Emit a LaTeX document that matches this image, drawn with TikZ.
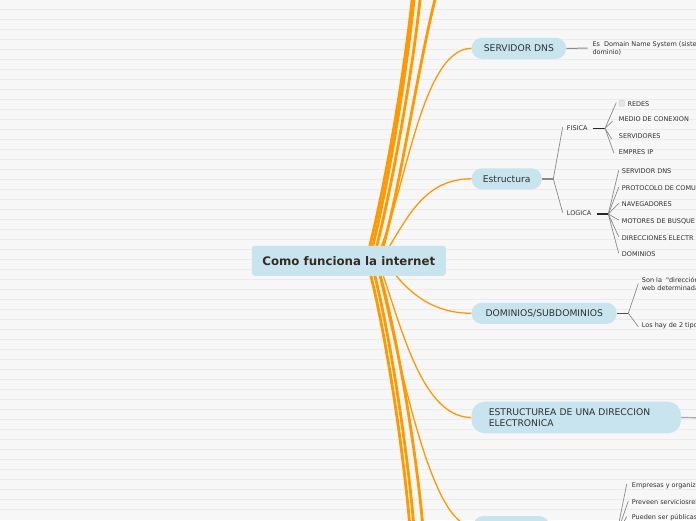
\documentclass[tikz,border=0pt]{standalone}
\usepackage{fontspec}
\newfontfamily\dv{DejaVu Sans}
\usetikzlibrary{calc}
\definecolor{bgc}{HTML}{F7F7F7}
\definecolor{gridc}{HTML}{EBEBEB}
\definecolor{nodeblue}{HTML}{C8E5EF}
\definecolor{orangeb}{HTML}{FF9900}
\definecolor{roottext}{HTML}{3A2B22}
\definecolor{txt}{HTML}{303030}
\definecolor{lineg}{HTML}{8A8A8A}
\pgfdeclarelayer{bglayer}
\pgfdeclarelayer{branches}
\pgfsetlayers{bglayer,branches,main}
\begin{document}
\begin{tikzpicture}[x=1pt,y=-1pt,
  rootnode/.style={fill=nodeblue, rounded corners=3pt, minimum width=194pt, minimum height=30pt, inner sep=0pt, text=roottext, font=\dv\bfseries\fontsize{11.8}{14}\selectfont},
  topic/.style={fill=nodeblue, rounded corners=10pt, minimum height=21pt, inner sep=0pt, text=txt, font=\dv\fontsize{9.2}{11}\selectfont},
  leaf/.style={anchor=west, inner sep=0pt, text height=4.7pt, text depth=0pt, text=txt, font=\dv\fontsize{6.5}{8}\selectfont},
  leaftwo/.style={anchor=north west, inner sep=0pt, align=left, text=txt, font=\dv\fontsize{6.5}{8}\selectfont},
  thickbr/.style={draw=orangeb, line width=2.8pt},
  thinbr/.style={draw=orangeb, line width=1.3pt},
  conn/.style={draw=lineg, line width=0.7pt},
  stubline/.style={draw=black!85, line width=1.1pt},
]
\useasboundingbox (0,0) rectangle (696,520);
\begin{pgfonlayer}{bglayer}
\fill[bgc] (0,0) rectangle (696,520);
\foreach \k in {1,...,51} \draw[gridc, line width=0.9pt] (0,\k*10-0.5) -- (696,\k*10-0.5);
\end{pgfonlayer}

\begin{scope}
\clip (0,0) rectangle (696,520);
% main nodes
\node[rootnode] (root) at (348.8,260.8) {Como funciona la internet};
\node[topic, minimum width=94.3pt] (dns) at (518.9,48.3) {SERVIDOR DNS};
\node[topic, minimum width=70pt] (est) at (506.7,178.8) {Estructura};
\node[topic, minimum width=145pt] (dom) at (544.2,313.3) {DOMINIOS/SUBDOMINIOS};
\node[topic, minimum width=209.3pt, minimum height=31.6pt, rounded corners=13pt, align=left, text width=175pt] (dir) at (576.3,417.5) {ESTRUCTUREA DE UNA DIRECCION\\ELECTRONICA};
\node[topic, minimum width=76pt] (bot) at (511.3,526.5) {};

% leaves
\node[leaftwo] (dnsdesc) at (592.3,41.1) {Es~ Domain Name System (siste\\dominio)};
\node[leaf] (fis) at (566.7,128.3) {FISICA};
\node[leaf] (log) at (566.7,213.5) {LOGICA};
\node[anchor=west, draw=black!20, fill=black!10, rounded corners=1pt, minimum size=5.6pt, inner sep=0pt] (redesbox) at (618.9,103.4) {};
\node[leaf] (redes) at (627.3,103.8) {REDES};
\node[leaf] (medio) at (618.7,119.5) {MEDIO DE CONEXION};
\node[leaf] (serv) at (618.7,136.3) {SERVIDORES};
\node[leaf] (emp) at (618.7,152.2) {EMPRES IP};
\node[leaf] (l1) at (621.7,171.2) {SERVIDOR DNS};
\node[leaf] (l2) at (621.7,188.3) {PROTOCOLO DE COMU};
\node[leaf] (l3) at (621.7,204.3) {NAVEGADORES};
\node[leaf] (l4) at (621.7,221.0) {MOTORES DE BUSQUE};
\node[leaf] (l5) at (621.7,237.7) {DIRECCIONES ELECTR};
\node[leaf] (l6) at (621.7,254.3) {DOMINIOS};
\node[leaftwo] (d1) at (641.7,276.8) {Son la~ "dirección\\web determinada};
\node[leaf] (d2) at (641.7,324.8) {Los hay de 2 tipo};
\node[leaf] (b1) at (631.7,485.5) {Empresas y organiz};
\node[leaf] (b2) at (631.7,501.7) {Preveen serviciosrel};
\node[leaf] (b3) at (631.7,517.5) {Pueden ser públicas};

% grey connectors
\draw[conn, line width=1pt] (dns.east) -- ([xshift=-4.6pt]dnsdesc.west);
\coordinate (estj) at (553.3,178.8);
\draw[conn, line width=1.6pt] (est.east) -- (estj);
\draw[conn] (estj) -- ($(fis.west)+(-4,-1.3)$);
\draw[conn] (estj) -- ($(log.west)+(-4,-0.8)$);
\coordinate (fisj) at (605,128.3);
\draw[stubline] ($(fis.west)+(26.6,0)$) -- (fisj);
\draw[conn] (fisj) -- ($(redesbox.west)+(-2.7,-0.7)$);
\draw[conn] (fisj) -- ($(medio.west)+(-6,1.5)$);
\draw[conn] (fisj) -- ($(serv.west)+(-7,2.7)$);
\draw[conn] (fisj) -- ($(emp.west)+(-4.7,1.1)$);
\coordinate (logj) at (608.3,214);
\draw[stubline] ($(log.west)+(30,0.5)$) -- (logj);
\foreach \n in {l1,l2,l3,l4,l5,l6} \draw[conn] (logj) -- ($(\n.west)+(-3,-1)$);
\coordinate (domj) at (628.3,313.3);
\draw[stubline, draw=black!70] (dom.east) -- (domj);
\draw[conn] (domj) -- ([xshift=-3.4pt]d1.west);
\draw[conn] (domj) -- ($(d2.west)+(-3.4,1.9)$);
\coordinate (dirout) at (696,417.7);
\draw[conn, draw=black!35, line width=1.2pt] (dir.east) -- (dirout);
\coordinate (botj) at (616.5,535);
\draw[conn] (botj) -- ($(b1.west)+(-5,-1.5)$);
\draw[conn] (botj) -- ($(b2.west)+(-3.4,-0.7)$);
\draw[conn] (botj) -- ($(b3.west)+(-5,-1)$);
\end{scope}

% orange branches
\begin{pgfonlayer}{branches}
\clip (0,0) rectangle (696,520);
\coordinate (up1) at (414,-20);
\coordinate (up2) at (416,-20);
\coordinate (up3) at (422,-20);
\coordinate (up4) at (440,-20);
\coordinate (dn1) at (411,540);
\coordinate (dn2) at (415,540);
\coordinate (dn3) at (424,540);
\draw[thickbr] ([xshift=17.2pt]root.center) .. controls (385,190) and (407,60) .. (up1);
\draw[thickbr] ([xshift=20.2pt]root.center) .. controls (388,190) and (409,60) .. (up2);
\draw[thickbr] ([xshift=24.2pt]root.center) .. controls (392,190) and (415,60) .. (up3);
\draw[thickbr] ([xshift=30.2pt]root.center) .. controls (400,195) and (418,60) .. (up4);
\draw[thickbr] ([xshift=18.2pt]root.center) .. controls (386,330) and (405,460) .. (dn1);
\draw[thickbr] ([xshift=22.2pt]root.center) .. controls (390,330) and (409,460) .. (dn2);
\draw[thickbr] ([xshift=27.2pt]root.center) .. controls (397,330) and (418,460) .. (dn3);
\draw[thinbr] ([xshift=26.2pt]root.center) .. controls (405,200) and (420,48.3) .. (dns.west);
\draw[thinbr] ([xshift=31.2pt]root.center) .. controls (405,225) and (420,178.8) .. (est.west);
\draw[thinbr] ([xshift=36.2pt]root.center) .. controls (405,290) and (430,313.3) .. (dom.west);
\draw[thinbr] ([xshift=29.2pt]root.center) .. controls (400,320) and (420,417.5) .. (dir.west);
\draw[thinbr] ([xshift=27.2pt]root.center) .. controls (400,360) and (430,526.5) .. (bot.west);
\end{pgfonlayer}
\end{tikzpicture}
\end{document}
